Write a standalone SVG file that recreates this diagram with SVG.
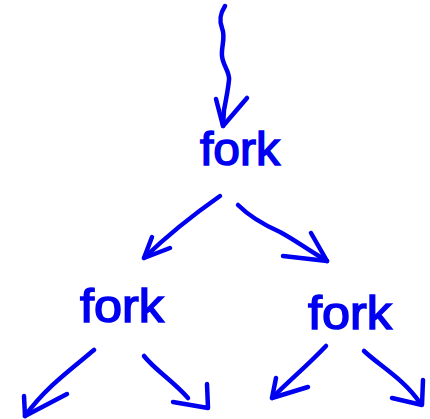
<svg xmlns="http://www.w3.org/2000/svg" width="430" height="419" viewBox="0 0 430 419">
<style>
.c{fill:none;stroke:#0000f0;stroke-width:4.5;stroke-linecap:round;stroke-linejoin:round}
.t{font-family:"Liberation Sans","DejaVu Sans",sans-serif;font-size:46px;fill:#0000f0;stroke:#0000f0;stroke-width:1.5;text-anchor:middle}
</style>
<rect width="430" height="419" fill="#fff"/>
<g id="connectors">
<path class="c" d="M225,6 C220,14 219,20 222,28 C226,38 221,46 222,56 C223,66 230,72 229,80 C228,90 226,100 224,110 L223,126"/>
<path class="c" d="M216,99 L223,126 L247,98"/>
<path class="c" d="M220,196 C200,210 175,228 144,258"/>
<path class="c" d="M152,237 L144,258 L170,248"/>
<path class="c" d="M238,205 C250,217 262,224 280,232 C295,240 305,248 327,261"/>
<path class="c" d="M311,233 L327,261 L283,256"/>
<path class="c" d="M94,350 C70,370 45,388 25,416"/>
<path class="c" d="M24,396 L25,416 L67,394"/>
<path class="c" d="M144,356 C155,370 172,380 188,398"/>
<path class="c" d="M207,384 L208,408 L173,402"/>
<path class="c" d="M326,346 C308,365 290,380 272,398"/>
<path class="c" d="M276,378 L272,398 L308,387"/>
<path class="c" d="M364,351 C380,366 405,380 420,403"/>
<path class="c" d="M423,380 L422,405 L392,398"/>
</g>
<g id="fork-top"><text class="t" x="240" y="165" textLength="80" lengthAdjust="spacingAndGlyphs">fork</text></g>
<g id="fork-left"><text class="t" x="122" y="322" textLength="84" lengthAdjust="spacingAndGlyphs">fork</text></g>
<g id="fork-right"><text class="t" x="350" y="329" textLength="84" lengthAdjust="spacingAndGlyphs">fork</text></g>
</svg>
